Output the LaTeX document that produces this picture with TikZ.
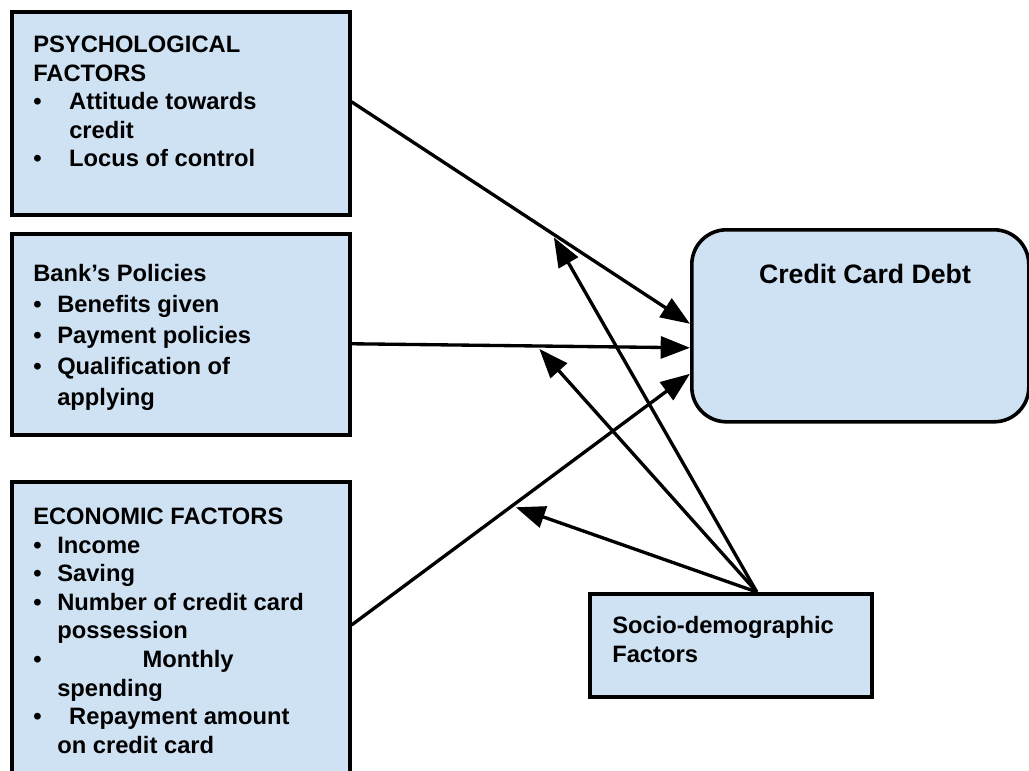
\documentclass[tikz,border=0pt]{standalone}
\usepackage{fontspec}
\setmainfont{Liberation Sans}
\usetikzlibrary{arrows.meta}
\definecolor{boxblue}{RGB}{207,226,243}
\newcommand{\bul}[1]{\makebox[#1][l]{\textbullet}}
\tikzset{
  factorbox/.style={draw, line width=2.7pt, fill=boxblue, inner sep=0pt, anchor=north west},
  boxtext/.style={align=left, inner sep=0pt, anchor=north west, font=\fontsize{17.8}{21.4}\selectfont\bfseries},
  effect/.style={line width=2.5pt, -{Triangle[length=22pt,width=16.5pt]}}
}
\begin{document}
\begin{tikzpicture}[x=0.75pt, y=-0.75pt]
        \useasboundingbox (0,0) rectangle (1029,771);
        % factor boxes
        \node[factorbox, minimum width=253.5pt, minimum height=152.25pt] (psych) at (10,10) {};
        \node[factorbox, minimum width=253.5pt, minimum height=150.75pt] (bank) at (10,232) {};
        \node[factorbox, minimum width=253.5pt, minimum height=240pt] (econ) at (10,480) {};
        \node[factorbox, minimum width=211.5pt, minimum height=77.25pt] (socio) at (588,592) {};
        \node[factorbox, rounded corners=26pt, minimum width=252.75pt, minimum height=144pt] (debt) at (690,228) {};
        % texts
        \node[boxtext] (psychtext) at (33,36) {PSYCHOLOGICAL\\FACTORS\\
          \bul{27pt}Attitude towards\\\hspace*{27pt}credit\\\bul{27pt}Locus of control};
        \node[boxtext, font=\fontsize{17.8}{23.2}\selectfont\bfseries] (banktext) at (33,264) {Bank’s Policies\\
          \bul{18pt}Benefits given\\\bul{18pt}Payment policies\\
          \bul{18pt}Qualification of\\\hspace*{18pt}applying};
        \node[boxtext] (econtext) at (33,508) {ECONOMIC FACTORS\\
          \bul{18pt}Income\\\bul{18pt}Saving\\\bul{18pt}Number of credit card\\
          \hspace*{18pt}possession\\\bul{82pt}Monthly\\\hspace*{18pt}spending\\
          \bul{27pt}Repayment amount\\\hspace*{18pt}on credit card};
        \node[boxtext, font=\fontsize{17.8}{21.8}\selectfont\bfseries] (sociotext) at (612,616) {Socio-demographic\\Factors};
        \node[anchor=base, inner sep=0pt, font=\fontsize{20}{24}\selectfont\bfseries] (debttext) at (865,283) {Credit Card Debt};
        % direct effects
        \draw[effect] ([yshift=8.6pt]psych.east) -- ([yshift=1.5pt]debt.west) coordinate[pos=0.59] (psychmid);
        \draw[effect] ([yshift=-7.1pt]bank.east) -- ([yshift=-16.5pt]debt.west) coordinate[pos=0.547] (bankmid);
        \draw[effect] ([yshift=-108.75pt]econ.north east) -- ([yshift=-36pt]debt.west) coordinate[pos=0.474] (econmid);
        % moderating effects
        \draw[effect, shorten >=4pt] ([xshift=19.5pt]socio.north) -- (psychmid);
        \draw[effect, shorten >=3pt] ([xshift=19.5pt]socio.north) -- (bankmid);
        \draw[effect, shorten >=3pt] ([xshift=19.5pt]socio.north) -- (econmid);
    \end{tikzpicture}
\end{document}
